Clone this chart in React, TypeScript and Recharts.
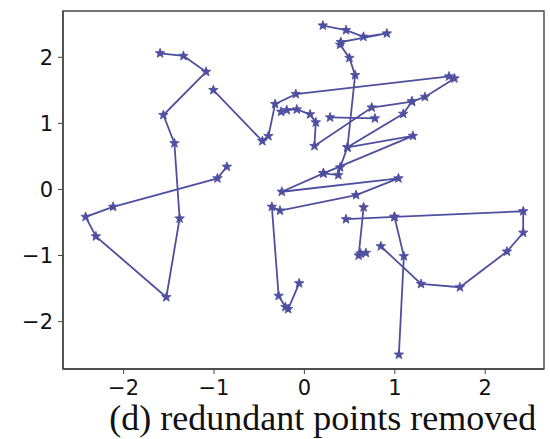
import React from 'react';
import { ScatterChart, Scatter, XAxis, YAxis, ReferenceArea } from 'recharts';

// Each stroke is a polyline of [x, y] points, drawn in order.
const strokeLeft: number[][] = [
  [-1.596, 2.06], [-1.338, 2.02], [-1.087, 1.78], [-1.56, 1.126], [-1.438, 0.7],
  [-1.38, -0.44], [-1.527, -1.63], [-2.306, -0.71], [-2.42, -0.415], [-2.116, -0.263],
  [-0.962, 0.168], [-0.858, 0.343],
];
const strokeBar: number[][] = [
  [-1.007, 1.504], [-0.465, 0.732], [-0.398, 0.808], [-0.324, 1.292], [-0.095, 1.443], [1.6, 1.71],
];
const strokeArc: number[][] = [
  [-0.258, 1.175], [-0.195, 1.2], [-0.084, 1.21], [0.063, 1.136], [0.126, 1.015], [0.111, 0.657],
  [0.745, 1.24], [1.19, 1.33], [1.333, 1.4], [1.66, 1.68],
];
const strokeShort: number[][] = [
  [0.284, 1.09], [0.78, 1.075],
];
const strokeTop: number[][] = [
  [0.204, 2.48], [0.461, 2.41], [0.653, 2.31], [0.912, 2.36], [0.403, 2.23], [0.395, 2.19],
  [0.498, 1.99], [0.561, 1.73], [0.476, 0.637], [0.395, 0.334], [0.375, 0.218], [0.21, 0.244],
];
const strokeZigzag: number[][] = [
  [-0.058, -1.42], [-0.18, -1.81], [-0.21, -1.78], [-0.285, -1.61], [-0.36, -0.263], [-0.27, -0.32],
  [0.572, -0.085], [1.04, 0.168], [-0.25, -0.035], [0.21, 0.244], [1.2, 0.81], [0.476, 0.637],
  [1.093, 1.144], [1.19, 1.33],
];
const strokeHook: number[][] = [
  [0.46, -0.45], [0.996, -0.415], [2.42, -0.33], [2.42, -0.655], [2.24, -0.94], [1.72, -1.48],
  [1.29, -1.43], [0.845, -0.86],
];
const strokeDown: number[][] = [
  [0.996, -0.415], [1.1, -1.01], [1.045, -2.5],
];
const strokeCross: number[][] = [
  [0.655, -0.27], [0.6, -1.0], [0.62, -0.97], [0.68, -0.96],
];

const strokes = [strokeLeft, strokeBar, strokeArc, strokeShort, strokeTop, strokeZigzag, strokeHook, strokeDown, strokeCross];

const xDomain = [-2.67, 2.65];
const yDomain = [-2.717, 2.7];
const xTicks = [-2, -1, 0, 1, 2];
const yTicks = [-2, -1, 0, 1, 2];
const caption = '(d) redundant points removed';

const COLOR = '#4f4f9f';
const FRAME = '#444444';

const fmt = (v: number) => (v < 0 ? '\u2212' + Math.abs(v) : String(v));

const Star = (props: any) => {
  const { cx, cy } = props;
  if (cx == null || cy == null) return null;
  const R = 5;
  const r = 2.1;
  const pts: string[] = [];
  for (let i = 0; i < 10; i++) {
    const ang = -Math.PI / 2 + (i * Math.PI) / 5;
    const rad = i % 2 === 0 ? R : r;
    pts.push(`${cx + rad * Math.cos(ang)},${cy + rad * Math.sin(ang)}`);
  }
  return <polygon points={pts.join(' ')} fill={COLOR} stroke={COLOR} strokeWidth={0.8} strokeLinejoin="round" />;
};

const tickStyle = { fontFamily: 'DejaVu Sans', fontSize: 21, fill: '#111' };

export default function App() {
  return (
    <div style={{ position: 'absolute', left: 0, top: 0, width: 550, height: 439, background: '#fff' }}>
      <ScatterChart width={550} height={439} margin={{ top: 11, right: 6, bottom: 0, left: 0 }}>
        <XAxis
          type="number"
          dataKey="x"
          domain={xDomain}
          ticks={xTicks}
          tickFormatter={fmt}
          height={70}
          tickSize={5}
          tickMargin={6}
          allowDataOverflow
          axisLine={{ stroke: FRAME, strokeWidth: 1.4 }}
          tickLine={{ stroke: FRAME }}
          tick={tickStyle}
        />
        <YAxis
          type="number"
          dataKey="y"
          domain={yDomain}
          ticks={yTicks}
          tickFormatter={fmt}
          width={63}
          tickSize={5}
          tickMargin={5}
          allowDataOverflow
          axisLine={{ stroke: FRAME, strokeWidth: 1.4 }}
          tickLine={{ stroke: FRAME }}
          tick={tickStyle}
        />
        <ReferenceArea
          x1={xDomain[0]}
          x2={xDomain[1]}
          y1={yDomain[0]}
          y2={yDomain[1]}
          fill="none"
          fillOpacity={0}
          stroke={FRAME}
          strokeWidth={1.4}
          strokeOpacity={1}
          ifOverflow="visible"
        />
        {strokes.map((s, i) => (
          <Scatter
            key={i}
            data={s.map(([x, y]) => ({ x, y }))}
            line={{ stroke: COLOR, strokeWidth: 1.8 }}
            lineType="joint"
            shape={<Star />}
            isAnimationActive={false}
          />
        ))}
      </ScatterChart>
      <svg width={550} height={439} style={{ position: 'absolute', left: 0, top: 0, pointerEvents: 'none' }}>
        <text x={322.7} y={430} textAnchor="middle" fontFamily="Liberation Serif" fontSize={36} fill="#111">
          {caption}
        </text>
      </svg>
    </div>
  );
}
